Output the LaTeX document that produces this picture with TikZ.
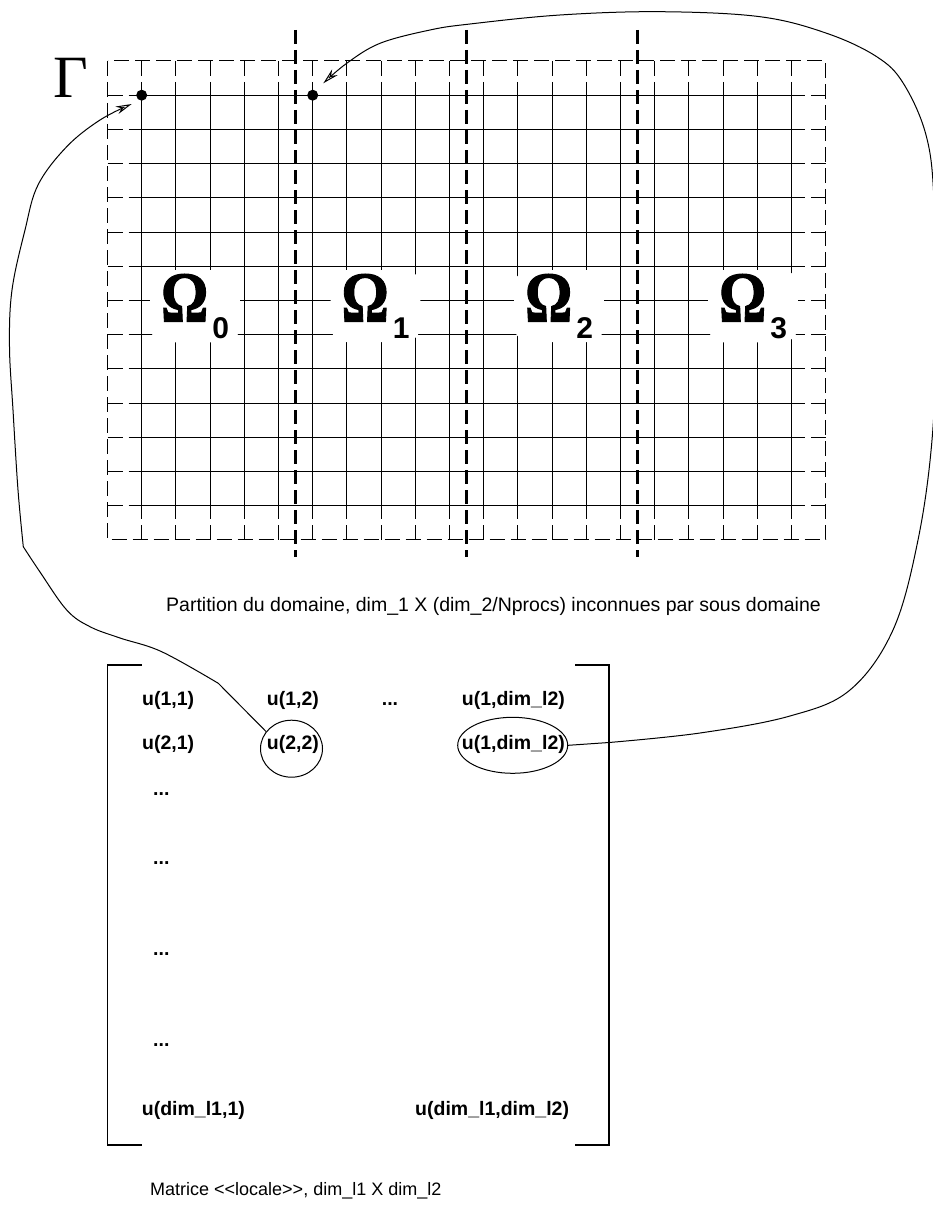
\documentclass[tikz,border=0pt]{standalone}
\usepackage{fontspec}
\usepackage{graphicx}
\setmainfont{Liberation Sans}
\newfontfamily\serifrm{Liberation Serif}
\newfontfamily\omegafont{Liberation Serif Bold}[FakeBold=1.5]
\usetikzlibrary{arrows.meta,shapes.geometric}
\newcommand{\bigOmega}{\scalebox{0.82}[1]{\omegafont\fontsize{72}{72}\selectfont Ω}}
\newcommand{\omsub}[1]{\kern4pt\raisebox{-16.3pt}{\bfseries\fontsize{30}{30}\selectfont #1}}
\begin{document}
\begin{tikzpicture}[x=1pt,y=-1pt,
  gridline/.style={line width=1pt},
  ringline/.style={line width=1pt, dash pattern=on 15pt off 6pt},
  sepline/.style={line width=2.6pt, dash pattern=on 14pt off 6pt},
  dotnode/.style={circle, fill=black, inner sep=0pt, minimum size=11pt},
  omlabel/.style={fill=white, rounded corners=16pt, inner xsep=11pt, inner ysep=4pt, anchor=base},
  entry/.style={font=\bfseries\fontsize{19.5}{23}\selectfont, inner sep=0pt, anchor=base west},
  caption/.style={font=\fontsize{19.5}{23}\selectfont, inner sep=0pt, anchor=base west},
  conn/.style={line width=1pt, -{Stealth[open,length=16pt,width=8pt]}},
  bracket/.style={line width=1.2pt},
  ringnode/.style={draw, ellipse, line width=1pt, inner sep=0pt}
]
\useasboundingbox (0,0) rectangle (933,1212);
\def\gridX{107.5}
\def\gridY{61}
\def\gridC{34.2}
% interior grid and dashed outer ring
\foreach \i in {1,...,20}{
  \pgfmathsetmacro\xx{\gridX+\i*\gridC}
  \draw[gridline] (\xx,\gridY+\gridC) -- (\xx,\gridY+13*\gridC);
  \draw[ringline] (\xx,\gridY) -- (\xx,\gridY+\gridC);
  \draw[ringline] (\xx,\gridY+14*\gridC) -- (\xx,\gridY+13*\gridC);
}
\foreach \j in {1,...,13}{
  \pgfmathsetmacro\yy{\gridY+\j*\gridC}
  \draw[gridline] (\gridX+\gridC,\yy) -- (\gridX+20*\gridC,\yy);
  \draw[ringline] (\gridX,\yy) -- (\gridX+\gridC,\yy);
  \draw[ringline] (\gridX+21*\gridC,\yy) -- (\gridX+20*\gridC,\yy);
}
\draw[ringline] (\gridX,\gridY) rectangle (\gridX+21*\gridC,\gridY+14*\gridC);
% partition separators
\foreach \k in {5.5,10.5,15.5}{
  \draw[sepline] (\gridX+\k*\gridC,30) -- (\gridX+\k*\gridC,557);
}
% labels
\node[omlabel] (om0) at (195,321.7) {\bigOmega\omsub{0}};
\node[omlabel] (om1) at (375.5,321.7) {\bigOmega\omsub{1}};
\node[omlabel] (om2) at (559,321.7) {\bigOmega\omsub{2}};
\node[omlabel] (om3) at (753,321.7) {\bigOmega\omsub{3}};
\node[anchor=base west, inner sep=0pt, font=\serifrm\fontsize{60}{60}\selectfont] (gam) at (53,97.7) {Γ};
% points
\node[dotnode] (d0) at (\gridX+\gridC,\gridY+\gridC) {};
\node[dotnode] (d1) at (\gridX+6*\gridC,\gridY+\gridC) {};
% caption 1
\node[caption] (cap1) at (166,611.7) {Partition du domaine, dim\_1 X (dim\_2/Nprocs) inconnues par sous domaine};
% matrix
\draw[bracket] (141.7,665) -- (107.3,665) -- (107.3,1145) -- (141.7,1145);
\draw[bracket] (575,665) -- (609,665) -- (609,1145) -- (575,1145);
\node[entry] (m11) at (142,705) {u(1,1)};
\node[entry] (m12) at (266.7,705) {u(1,2)};
\node[entry] (m1d) at (381.7,705) {...};
\node[entry] (m1n) at (461.7,705) {u(1,dim\_l2)};
\node[entry] (m21) at (142,749) {u(2,1)};
\node[entry] (m22) at (266.7,749) {u(2,2)};
\node[entry] (m2n) at (461.7,749) {u(1,dim\_l2)};
\node[entry] (v1) at (153,795) {...};
\node[entry] (v2) at (153,864.5) {...};
\node[entry] (v3) at (153,955) {...};
\node[entry] (v4) at (153,1046) {...};
\node[entry] (mn1) at (141.7,1115) {u(dim\_l1,1)};
\node[entry] (mnn) at (415,1115) {u(dim\_l1,dim\_l2)};
\node[ringnode, minimum width=62pt, minimum height=57pt] (c22) at (291.5,748.7) {};
\node[ringnode, minimum width=110pt, minimum height=56pt] (e2n) at (512.7,745.3) {};
\node[caption, font=\fontsize{18}{21}\selectfont] (cap2) at (150,1195) {Matrice <\kern0pt<locale>\kern0pt>, dim\_l1 X dim\_l2};
% connectors
\coordinate (a0) at (131.7,104);
\coordinate (a1) at (323.3,83.3);
\draw[conn] (c22.146) -- (218.3,683.3) -- plot[smooth, tension=0.6] coordinates {(218.3,683.3) (161.7,651.7) (120,638) (90,626.7) (66.7,610) (40,572) (23.3,546.7)} -- plot[smooth, tension=0.6] coordinates {(23.3,546.7) (18,490) (13,410) (9.5,346.7) (12,290) (25,230) (38,185) (66.7,146.7) (100,120) (a0)};
\draw[conn] (e2n.east) -- (609,742.5) -- plot[smooth, tension=0.6] coordinates {(609,742.5) (700,733) (790,716) (850,690) (893,630) (918,540) (932,440) (936,330) (934,200) (926,135) (903.3,83.3) (876.7,56.7) (826.7,33.3) (760,16.7) (660,11.7) (560,15) (470,24) (430,30) (380,43.3) (346.7,63.3) (a1)};
\end{tikzpicture}
\end{document}
